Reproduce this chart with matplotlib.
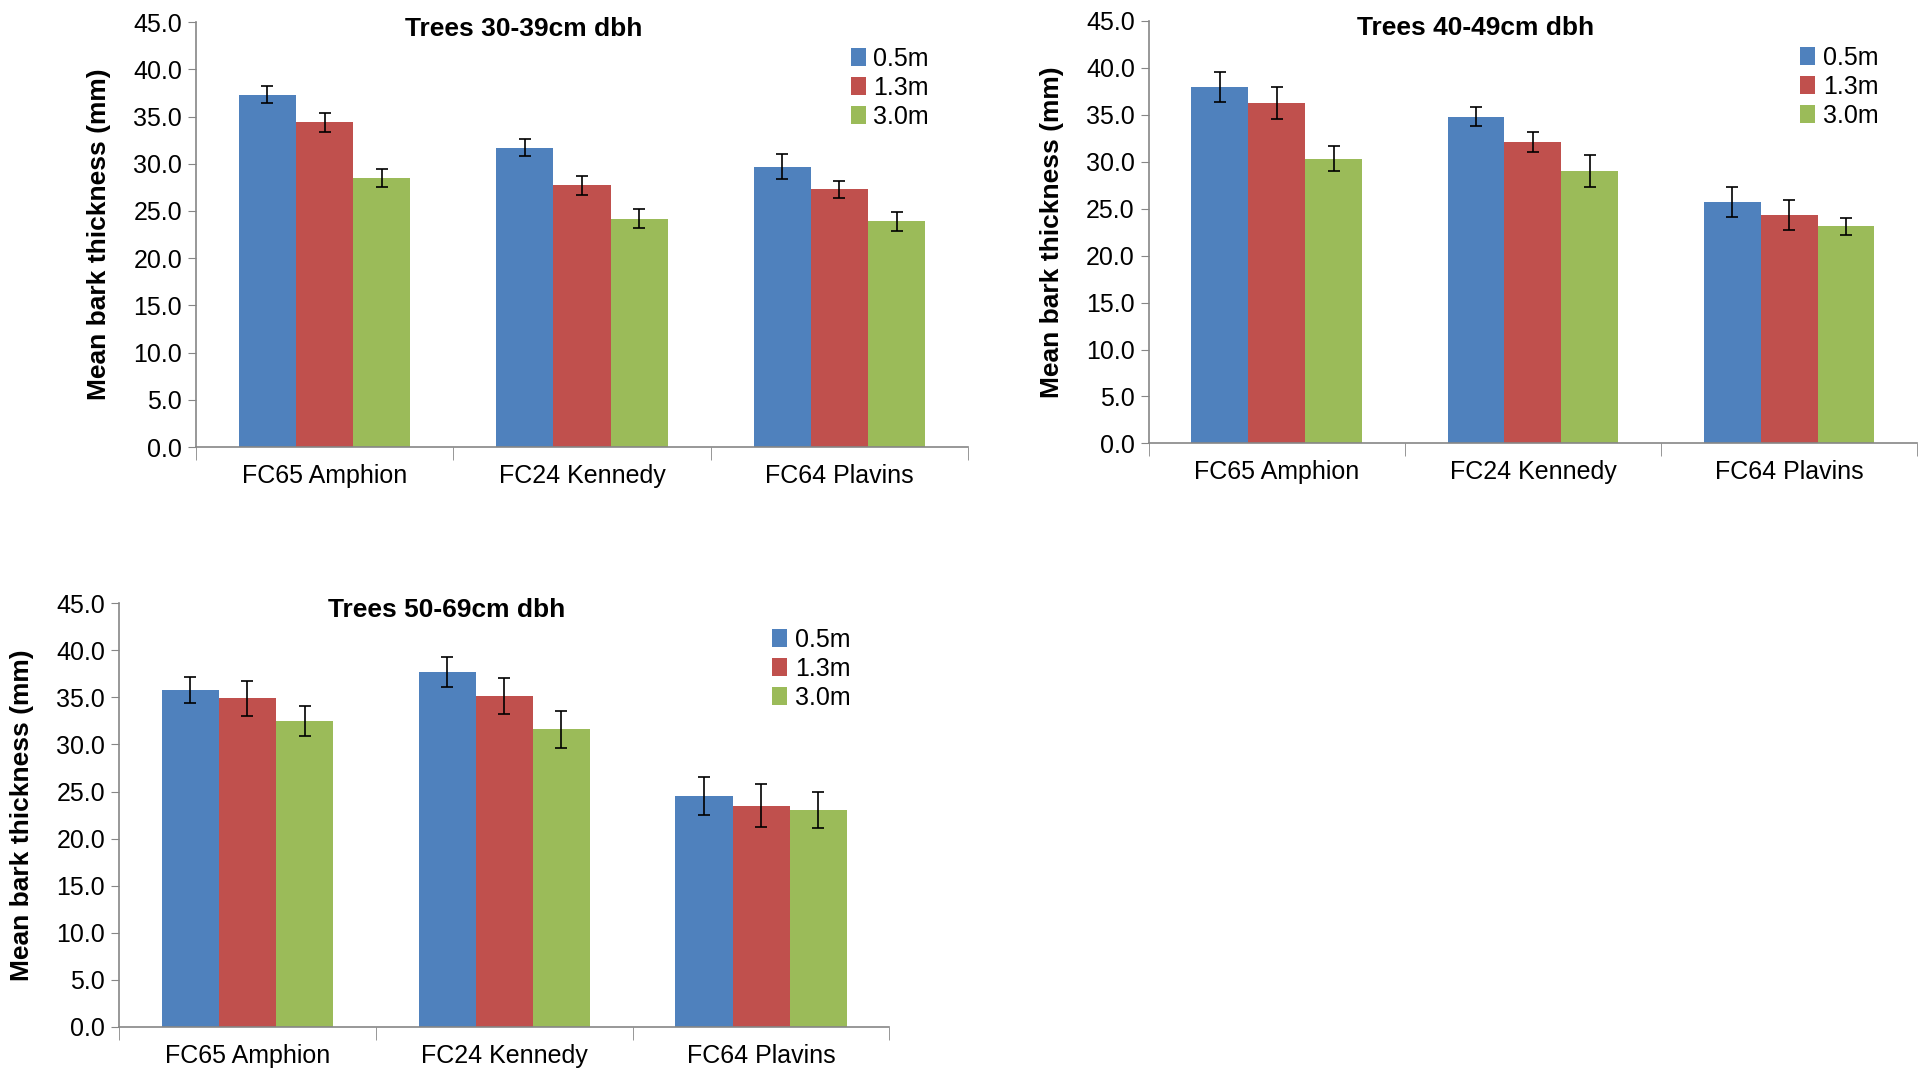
import matplotlib.pyplot as plt
import numpy as np
from matplotlib import font_manager

plt.rcParams['font.family'] = ['Liberation Sans', 'DejaVu Sans']

# the source chart uses a condensed face for its horizontal text
names = {f.name for f in font_manager.fontManager.ttflist}
NARROW = 'Liberation Sans Narrow' if 'Liberation Sans Narrow' in names else 'Liberation Sans'

sites = ['FC65 Amphion', 'FC24 Kennedy', 'FC64 Plavins']
heights = ['0.5m', '1.3m', '3.0m']
colors = ['#4F81BD', '#C0504D', '#9BBB59']

titles = ['Trees 30-39cm dbh', 'Trees 40-49cm dbh', 'Trees 50-69cm dbh']

# mean bark thickness per site, one list per sampling height
dbh30_means = [[37.3, 31.7, 29.7], [34.4, 27.7, 27.3], [28.5, 24.2, 23.9]]
dbh30_err = [[0.9, 0.9, 1.3], [1.0, 1.0, 0.9], [0.95, 1.0, 1.0]]

dbh40_means = [[37.9, 34.8, 25.7], [36.2, 32.1, 24.3], [30.3, 29.0, 23.1]]
dbh40_err = [[1.6, 1.05, 1.55], [1.7, 1.05, 1.6], [1.35, 1.7, 0.9]]

dbh50_means = [[35.8, 37.7, 24.5], [34.9, 35.1, 23.5], [32.5, 31.6, 23.0]]
dbh50_err = [[1.4, 1.6, 2.0], [1.85, 1.9, 2.3], [1.6, 2.0, 1.9]]

panels = [
    (dbh30_means, dbh30_err, [0.102, 0.5834, 0.402, 0.396]),
    (dbh40_means, dbh40_err, [0.598, 0.5867, 0.400, 0.394]),
    (dbh50_means, dbh50_err, [0.062, 0.0429, 0.401, 0.395]),
]

fig = plt.figure(figsize=(19.21, 10.73), dpi=100)

x = np.arange(len(sites))
width = 2 / 9
tick_fs = 21 if NARROW != 'Liberation Sans' else 18

for i, (means, errs, rect) in enumerate(panels):
    ax = fig.add_axes(rect)
    for j, h in enumerate(heights):
        ax.bar(x + (j - 1) * width, means[j], width, color=colors[j], label=h,
               yerr=errs[j], capsize=4,
               error_kw=dict(ecolor='black', elinewidth=1.2, capthick=1.2))

    ax.set_xlim(-0.5, 2.5)
    ax.set_ylim(0, 45)
    ax.set_yticks(np.arange(0, 46, 5))
    ax.set_yticklabels([f'{v:.1f}' for v in np.arange(0, 46, 5)])
    ax.set_xticks(x)
    ax.set_xticklabels(sites)
    ax.set_xticks([-0.5, 0.5, 1.5, 2.5], minor=True)
    ax.tick_params(axis='x', which='major', length=0, pad=12, labelsize=tick_fs)
    ax.tick_params(axis='x', which='minor', length=9, color='#868686')
    ax.tick_params(axis='y', length=6, color='#868686', labelsize=tick_fs, pad=4)
    for lab in ax.get_xticklabels() + ax.get_yticklabels():
        lab.set_family(NARROW)

    for s in ['top', 'right']:
        ax.spines[s].set_visible(False)
    for s in ['left', 'bottom']:
        ax.spines[s].set_color('#868686')
        ax.spines[s].set_linewidth(1.2)

    ax.set_ylabel('Mean bark thickness (mm)', fontsize=19, fontweight='bold')
    ax.yaxis.set_label_coords(-0.11, 0.5)

    ax.text(0.425, 0.983, titles[i], transform=ax.transAxes, ha='center',
            va='center', fontsize=tick_fs + 1, fontweight='bold', family=NARROW)

    leg = ax.legend(loc='upper left', bbox_to_anchor=(0.835, 0.965), frameon=False,
                    fontsize=tick_fs, handlelength=0.6, handleheight=0.7,
                    handletextpad=0.3, labelspacing=0.2, borderaxespad=0)
    for t in leg.get_texts():
        t.set_family(NARROW)

plt.savefig('out.png', dpi=100)
plt.close()
